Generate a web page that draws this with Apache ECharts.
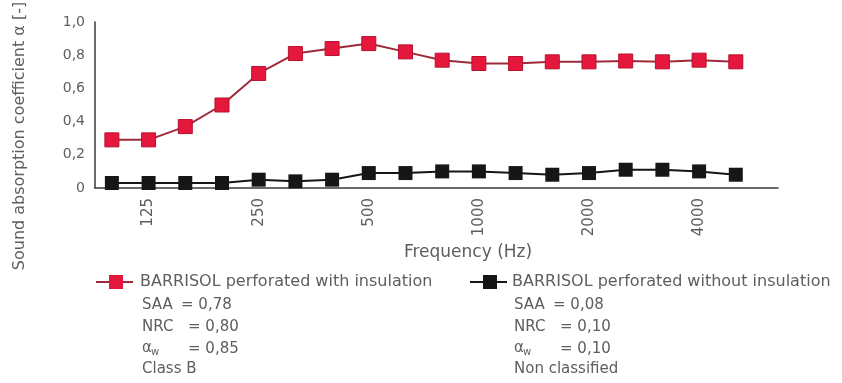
<!DOCTYPE html>
<html>
<head>
<meta charset="utf-8">
<script src="https://cdn.jsdelivr.net/npm/echarts@6/dist/echarts.min.js"></script>
<style>html,body{margin:0;padding:0;background:#fff;}#c{width:842px;height:383px;}</style>
</head>
<body>
<div id="c"></div>
<script>
// Data
const frequencies = ['100','125','160','200','250','315','400','500','630','800','1000','1250','1600','2000','2500','3150','4000','5000'];
const tickLabels = ['125','250','500','1000','2000','4000'];
const withInsulation = [0.29,0.29,0.37,0.50,0.69,0.81,0.84,0.87,0.82,0.77,0.75,0.75,0.76,0.76,0.765,0.76,0.77,0.76];
const withoutInsulation = [0.03,0.03,0.03,0.03,0.05,0.04,0.05,0.09,0.09,0.10,0.10,0.09,0.08,0.09,0.11,0.11,0.10,0.08];
const yTicks = ['0','0,2','0,4','0,6','0,8','1,0'];
const seriesNames = ['BARRISOL perforated with insulation','BARRISOL perforated without insulation'];
const statsWith = ['SAA','= 0,78','NRC','= 0,80','= 0,85','Class B'];
const statsWithout = ['SAA','= 0,08','NRC','= 0,10','= 0,10','Non classified'];

const FONT = '"DejaVu Sans", sans-serif';
const TXT = '#5e5e5e';
const RED = '#e5173d';
const BLACK = '#161616';

const tickIdx = tickLabels.map(t => frequencies.indexOf(t));
const toPairs = arr => arr.map((v, i) => [i, v]);

function txt(x, y, text, size, extra) {
  return Object.assign({
    type: 'text', x: x, y: y,
    style: { text: text, font: size + 'px ' + FONT, fill: TXT, textAlign: 'left', textVerticalAlign: 'middle' }
  }, extra || {});
}

function legendBlock(x0, iconX, color, name, stats) {
  const els = [];
  els.push({ type: 'line', shape: { x1: iconX - 20, y1: 282, x2: iconX + 17, y2: 282 }, style: { stroke: color === RED ? '#9e2a3a' : BLACK, lineWidth: 2 } });
  els.push({ type: 'rect', shape: { x: iconX - 7, y: 275, width: 14, height: 14 }, style: { fill: color } });
  els.push(txt(x0, 282, name, 16));
  const sx = x0 + 2;
  els.push(txt(sx, 305, stats[0], 15));
  els.push(txt(sx + 39, 305, stats[1], 15));
  els.push(txt(sx, 327, stats[2], 15));
  els.push(txt(sx + 46, 327, stats[3], 15));
  els.push(txt(sx, 348, 'α', 15));
  els.push(txt(sx + 9, 352, 'w', 10));
  els.push(txt(sx + 46, 349, stats[4], 15));
  els.push(txt(sx, 369, stats[5], 15));
  return els;
}

const chart = echarts.init(document.getElementById('c'));
chart.setOption({
  animation: false,
  backgroundColor: '#ffffff',
  grid: { left: 95, right: 64, top: 22, bottom: 195 },
  xAxis: {
    type: 'value', min: -0.46, max: 18.15,
    axisLine: { show: true, onZero: false, lineStyle: { color: '#3a3a3a', width: 1.5 } },
    axisTick: { show: false },
    splitLine: { show: false },
    axisLabel: {
      customValues: tickIdx,
      rotate: 90, margin: 10,
      fontFamily: FONT, fontSize: 15, color: TXT,
      formatter: v => frequencies[Math.round(v)]
    }
  },
  yAxis: {
    type: 'value', min: 0, max: 1, interval: 0.2,
    axisLine: { show: true, onZero: false, lineStyle: { color: '#3a3a3a', width: 1.5 } },
    axisTick: { show: false },
    splitLine: { show: false },
    axisLabel: {
      margin: 10, fontFamily: FONT, fontSize: 14, color: TXT,
      formatter: v => yTicks[Math.round(v / 0.2)]
    }
  },
  series: [
    {
      name: seriesNames[0], type: 'line', data: toPairs(withInsulation),
      symbol: 'rect', symbolSize: 14,
      lineStyle: { color: '#9e2a3a', width: 2 },
      itemStyle: { color: RED, borderColor: '#b8102e', borderWidth: 1 }
    },
    {
      name: seriesNames[1], type: 'line', data: toPairs(withoutInsulation),
      symbol: 'rect', symbolSize: 14,
      lineStyle: { color: BLACK, width: 2 },
      itemStyle: { color: BLACK }
    }
  ],
  graphic: [].concat(
    [
      { type: 'text', x: 468, y: 253, style: { text: 'Frequency (Hz)', font: '17px ' + FONT, fill: TXT, textAlign: 'center', textVerticalAlign: 'middle' } },
      { type: 'text', x: 20, y: 136, rotation: Math.PI / 2, style: { text: 'Sound absorption coefficient α [-]', font: '16px ' + FONT, fill: TXT, textAlign: 'center', textVerticalAlign: 'middle' } }
    ],
    legendBlock(140, 116, RED, seriesNames[0], statsWith),
    legendBlock(512, 490, BLACK, seriesNames[1], statsWithout)
  )
});
</script>
</body>
</html>
